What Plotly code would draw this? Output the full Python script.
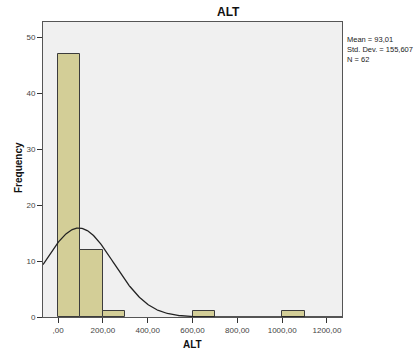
import numpy as np
import plotly.graph_objects as go

bin_starts = [0, 100, 200, 300, 400, 500, 600, 700, 800, 900, 1000, 1100]
counts = [47, 12, 1, 0, 0, 0, 1, 0, 0, 0, 1, 0]
bin_width = 100
mean_val = 93.01
sd_val = 155.607
n_val = 62
x_tickvals = [0, 200, 400, 600, 800, 1000, 1200]
x_ticktext = [",00", "200,00", "400,00", "600,00", "800,00", "1000,00", "1200,00"]
y_tickvals = [0, 10, 20, 30, 40, 50]

xs = [b + bin_width / 2 for b, c in zip(bin_starts, counts) if c > 0]
ys = [c for c in counts if c > 0]

xr = [-67, 1267]
cx = np.linspace(xr[0], xr[1], 400)
cy = n_val * bin_width / (sd_val * np.sqrt(2 * np.pi)) * np.exp(-0.5 * ((cx - mean_val) / sd_val) ** 2)

fig = go.Figure()
fig.add_trace(go.Bar(x=xs, y=ys, width=bin_width,
                     marker=dict(color="#d3ce97", line=dict(color="#3c3c3c", width=1)),
                     hoverinfo="skip"))
fig.add_trace(go.Scatter(x=cx, y=cy, mode="lines", line=dict(color="#222222", width=1.3),
                         hoverinfo="skip"))

fig.update_layout(
    width=416, height=353,
    margin=dict(l=43, r=74, t=22, b=36),
    paper_bgcolor="white", plot_bgcolor="#f0f0f0",
    showlegend=False,
    font=dict(family="Liberation Sans, Arial, sans-serif", color="#333333"),
    bargap=0,
)
fig.update_xaxes(range=xr, tickvals=x_tickvals, ticktext=x_ticktext,
                 ticks="outside", ticklen=5, tickcolor="#333333",
                 showline=True, linecolor="#555555", linewidth=1, mirror=True,
                 showgrid=False, zeroline=False,
                 tickfont=dict(size=8, color="#444444"))
fig.update_yaxes(range=[0, 52.7], tickvals=y_tickvals,
                 ticks="outside", ticklen=5, tickcolor="#333333",
                 showline=True, linecolor="#555555", linewidth=1, mirror=True,
                 showgrid=False, zeroline=False,
                 tickfont=dict(size=8, color="#444444"))

fig.add_annotation(text="<b>ALT</b>", xref="paper", yref="paper",
                   x=(228 - 43) / 299, y=1, yshift=10, xanchor="center", yanchor="middle",
                   showarrow=False, font=dict(size=12, color="#111111"))
fig.add_annotation(text="<b>ALT</b>", xref="paper", yref="paper",
                   x=(192 - 43) / 299, y=0, yshift=-27, xanchor="center", yanchor="middle",
                   showarrow=False, font=dict(size=10, color="#111111"))
fig.add_annotation(text="<b>Frequency</b>", xref="paper", yref="paper",
                   x=0, xshift=-25, y=(317 - 168) / 295, xanchor="center", yanchor="middle",
                   textangle=-90, showarrow=False, font=dict(size=10, color="#111111"))
fig.add_annotation(text=f"Mean = 93,01<br>Std. Dev. = 155,607<br>N = {n_val}",
                   xref="paper", yref="paper", x=1, xshift=3, y=(317 - 33) / 295,
                   xanchor="left", yanchor="top", align="left", showarrow=False,
                   font=dict(size=7.5, color="#222222"))

fig.write_html("out.html")
